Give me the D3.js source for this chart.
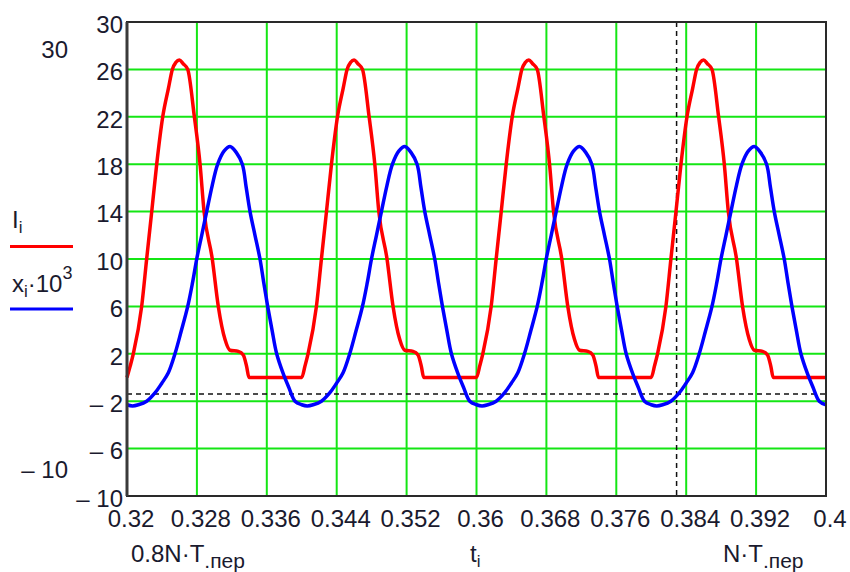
<!DOCTYPE html>
<html>
<head>
<meta charset="utf-8">
<script src="https://cdn.jsdelivr.net/npm/d3@7/dist/d3.min.js"></script>
<style>
body { margin: 0; background: #fff; }
text { font-family: "Liberation Sans", Arial, sans-serif; fill: #1a1a2e; }
</style>
</head>
<body>
<div id="svgcontainer"></div>
<script>
var width = 850;
var height = 572;
var margin = {top: 22, right: 24, bottom: 76, left: 127};

var xTicks = [0.32, 0.328, 0.336, 0.344, 0.352, 0.36, 0.368, 0.376, 0.384, 0.392, 0.4];
var xTickLabels = ["0.32", "0.328", "0.336", "0.344", "0.352", "0.36", "0.368", "0.376", "0.384", "0.392", "0.4"];
var yTicks = [30, 26, 22, 18, 14, 10, 6, 2, -2, -6, -10];

// I_i
var redT = [
   0.32000, 0.32038, 0.32072, 0.32168, 0.32225, 0.32283, 0.32340, 0.32409, 0.32474, 0.32519, 0.32560, 0.32599, 0.32640, 0.32695, 0.32771, 0.32836, 0.32882, 0.32976, 0.33045, 0.33122, 0.33179, 0.33274, 0.33331, 0.33370, 0.33396,
   0.34000, 0.34038, 0.34072, 0.34168, 0.34225, 0.34283, 0.34340, 0.34409, 0.34474, 0.34519, 0.34560, 0.34599, 0.34640, 0.34695, 0.34771, 0.34836, 0.34882, 0.34976, 0.35045, 0.35122, 0.35179, 0.35274, 0.35331, 0.35370, 0.35396,
   0.36000, 0.36038, 0.36072, 0.36168, 0.36225, 0.36283, 0.36340, 0.36409, 0.36474, 0.36519, 0.36560, 0.36599, 0.36640, 0.36695, 0.36771, 0.36836, 0.36882, 0.36976, 0.37045, 0.37122, 0.37179, 0.37274, 0.37331, 0.37370, 0.37396,
   0.38000, 0.38038, 0.38072, 0.38168, 0.38225, 0.38283, 0.38340, 0.38409, 0.38474, 0.38519, 0.38560, 0.38599, 0.38640, 0.38695, 0.38771, 0.38836, 0.38882, 0.38976, 0.39045, 0.39122, 0.39179, 0.39274, 0.39331, 0.39370, 0.39396,
   0.40000
];
var redI = [
   0, 1.0, 2.0, 6.0, 10.0, 14.0, 18.0, 22.0, 24.4, 26.0, 26.6, 26.8, 26.5, 26.0, 22.0, 18.0, 14.0, 10.0, 6.0, 3.2, 2.3, 2.2, 1.9, 0.9, 0,
   0, 1.0, 2.0, 6.0, 10.0, 14.0, 18.0, 22.0, 24.4, 26.0, 26.6, 26.8, 26.5, 26.0, 22.0, 18.0, 14.0, 10.0, 6.0, 3.2, 2.3, 2.2, 1.9, 0.9, 0,
   0, 1.0, 2.0, 6.0, 10.0, 14.0, 18.0, 22.0, 24.4, 26.0, 26.6, 26.8, 26.5, 26.0, 22.0, 18.0, 14.0, 10.0, 6.0, 3.2, 2.3, 2.2, 1.9, 0.9, 0,
   0, 1.0, 2.0, 6.0, 10.0, 14.0, 18.0, 22.0, 24.4, 26.0, 26.6, 26.8, 26.5, 26.0, 22.0, 18.0, 14.0, 10.0, 6.0, 3.2, 2.3, 2.2, 1.9, 0.9, 0,
   0
];

// x_i*10^3
var blueT = [
   0.32000, 0.32063, 0.32130, 0.32225, 0.32320, 0.32397, 0.32473, 0.32549, 0.32620, 0.32695, 0.32750, 0.32798, 0.32855, 0.32912, 0.32975, 0.33038, 0.33110, 0.33179, 0.33250, 0.33320, 0.33365, 0.33408, 0.33465, 0.33522, 0.33565, 0.33610, 0.33660, 0.33713, 0.33789, 0.33850, 0.33923,
   0.34000, 0.34063, 0.34130, 0.34225, 0.34320, 0.34397, 0.34473, 0.34549, 0.34620, 0.34695, 0.34750, 0.34798, 0.34855, 0.34912, 0.34975, 0.35038, 0.35110, 0.35179, 0.35250, 0.35320, 0.35365, 0.35408, 0.35465, 0.35522, 0.35565, 0.35610, 0.35660, 0.35713, 0.35789, 0.35850, 0.35923,
   0.36000, 0.36063, 0.36130, 0.36225, 0.36320, 0.36397, 0.36473, 0.36549, 0.36620, 0.36695, 0.36750, 0.36798, 0.36855, 0.36912, 0.36975, 0.37038, 0.37110, 0.37179, 0.37250, 0.37320, 0.37365, 0.37408, 0.37465, 0.37522, 0.37565, 0.37610, 0.37660, 0.37713, 0.37789, 0.37850, 0.37923,
   0.38000, 0.38063, 0.38130, 0.38225, 0.38320, 0.38397, 0.38473, 0.38549, 0.38620, 0.38695, 0.38750, 0.38798, 0.38855, 0.38912, 0.38975, 0.39038, 0.39110, 0.39179, 0.39250, 0.39320, 0.39365, 0.39408, 0.39465, 0.39522, 0.39565, 0.39610, 0.39660, 0.39713, 0.39789, 0.39850, 0.39923,
   0.40000
];
var blueX = [
   -2.3, -2.4, -2.3, -2.0, -1.3, -0.5, 0.4, 2.0, 3.9, 6.0, 8.0, 10.0, 12.0, 14.0, 16.2, 18.0, 19.1, 19.5, 19.0, 18.0, 16.0, 14.0, 12.0, 10.0, 8.0, 6.0, 4.0, 2.0, 0.3, -0.8, -2.0,
   -2.3, -2.4, -2.3, -2.0, -1.3, -0.5, 0.4, 2.0, 3.9, 6.0, 8.0, 10.0, 12.0, 14.0, 16.2, 18.0, 19.1, 19.5, 19.0, 18.0, 16.0, 14.0, 12.0, 10.0, 8.0, 6.0, 4.0, 2.0, 0.3, -0.8, -2.0,
   -2.3, -2.4, -2.3, -2.0, -1.3, -0.5, 0.4, 2.0, 3.9, 6.0, 8.0, 10.0, 12.0, 14.0, 16.2, 18.0, 19.1, 19.5, 19.0, 18.0, 16.0, 14.0, 12.0, 10.0, 8.0, 6.0, 4.0, 2.0, 0.3, -0.8, -2.0,
   -2.3, -2.4, -2.3, -2.0, -1.3, -0.5, 0.4, 2.0, 3.9, 6.0, 8.0, 10.0, 12.0, 14.0, 16.2, 18.0, 19.1, 19.5, 19.0, 18.0, 16.0, 14.0, 12.0, 10.0, 8.0, 6.0, 4.0, 2.0, 0.3, -0.8, -2.0,
   -2.3
];

// markers
var markerY = -1.4;
var markerX = 0.3829;

var svg = d3.select("#svgcontainer")
   .append("svg")
   .attr("width", width)
   .attr("height", height);

var x = d3.scaleLinear()
   .domain([0.32, 0.4])
   .range([margin.left, width - margin.right]);

var y = d3.scaleLinear()
   .domain([-10, 30])
   .range([height - margin.bottom, margin.top]);

// green grid
svg.append("g")
   .selectAll("line.vx")
   .data(xTicks.slice(1, -1))
   .enter()
   .append("line")
   .attr("x1", function(d) { return x(d); })
   .attr("x2", function(d) { return x(d); })
   .attr("y1", y(30))
   .attr("y2", y(-10))
   .attr("stroke", "#14e614")
   .attr("stroke-width", 2);

svg.append("g")
   .selectAll("line.hy")
   .data(yTicks.slice(1, -1))
   .enter()
   .append("line")
   .attr("x1", x(0.32))
   .attr("x2", x(0.4))
   .attr("y1", function(d) { return y(d); })
   .attr("y2", function(d) { return y(d); })
   .attr("stroke", "#14e614")
   .attr("stroke-width", 2);

// dashed markers
svg.append("line")
   .attr("x1", x(0.32)).attr("x2", x(0.4))
   .attr("y1", y(markerY)).attr("y2", y(markerY))
   .attr("stroke", "#111")
   .attr("stroke-width", 1.5)
   .attr("stroke-dasharray", "5,4");

svg.append("line")
   .attr("x1", x(markerX)).attr("x2", x(markerX))
   .attr("y1", y(30)).attr("y2", y(-10))
   .attr("stroke", "#111")
   .attr("stroke-width", 1.5)
   .attr("stroke-dasharray", "5,4");

var redLine = d3.line()
   .x(function(d) { return x(d[0]); })
   .y(function(d) { return y(d[1]); })
   .curve(d3.curveMonotoneX);

var blueLine = d3.line()
   .x(function(d) { return x(d[0]); })
   .y(function(d) { return y(d[1]); })
   .curve(d3.curveCatmullRom.alpha(0.5));

svg.append("path")
   .datum(d3.zip(redT, redI))
   .attr("d", redLine)
   .attr("fill", "none")
   .attr("stroke", "#ff0000")
   .attr("stroke-width", 3.5)
   .attr("stroke-linejoin", "round");

svg.append("path")
   .datum(d3.zip(blueT, blueX))
   .attr("d", blueLine)
   .attr("fill", "none")
   .attr("stroke", "#0000ff")
   .attr("stroke-width", 3.5)
   .attr("stroke-linejoin", "round");

// frame
svg.append("rect")
   .attr("x", x(0.32))
   .attr("y", y(30))
   .attr("width", x(0.4) - x(0.32))
   .attr("height", y(-10) - y(30))
   .attr("fill", "none")
   .attr("stroke", "#2a2a2a")
   .attr("stroke-width", 2);

svg.append("line")
   .attr("x1", x(0.32)).attr("x2", x(0.32))
   .attr("y1", y(30)).attr("y2", y(-10))
   .attr("stroke", "#3a3a3a")
   .attr("stroke-width", 3);

// tick labels
var yAxis = d3.axisLeft(y)
   .tickValues(yTicks)
   .tickSize(0)
   .tickPadding(4)
   .tickFormat(function(d) { return d < 0 ? "\u2013 " + Math.abs(d) : String(d); });

svg.append("g")
   .attr("transform", "translate(" + x(0.32) + ",0)")
   .call(yAxis)
   .call(function(g) { g.select(".domain").remove(); })
   .selectAll("text")
   .attr("font-size", "24px")
   .attr("font-family", "Liberation Sans, Arial, sans-serif")
   .attr("fill", "#1a1a2e")
   .attr("dy", "0.43em");

var xAxis = d3.axisBottom(x)
   .tickValues(xTicks)
   .tickSize(0)
   .tickPadding(14)
   .tickFormat(function(d, i) { return xTickLabels[i]; });

svg.append("g")
   .attr("transform", "translate(3.5," + y(-10) + ")")
   .call(xAxis)
   .call(function(g) { g.select(".domain").remove(); })
   .selectAll("text")
   .attr("font-size", "24px")
   .attr("font-family", "Liberation Sans, Arial, sans-serif")
   .attr("fill", "#1a1a2e");

// axis limit labels
svg.append("text")
   .attr("x", 68).attr("y", 58)
   .attr("text-anchor", "end")
   .attr("font-size", "24px")
   .text("30");

svg.append("text")
   .attr("x", 68).attr("y", 478)
   .attr("text-anchor", "end")
   .attr("font-size", "24px")
   .text("\u2013 10");

var lab1 = svg.append("text")
   .attr("x", 131).attr("y", 562)
   .attr("font-size", "24px");
lab1.append("tspan").text("0.8N\u00b7T");
lab1.append("tspan").attr("dy", 6).attr("font-size", "21px").text(".пер");

var lab2 = svg.append("text")
   .attr("x", 470).attr("y", 562)
   .attr("font-size", "24px");
lab2.append("tspan").text("t");
lab2.append("tspan").attr("dy", 5).attr("font-size", "17px").text("i");

var lab3 = svg.append("text")
   .attr("x", 723).attr("y", 562)
   .attr("font-size", "24px");
lab3.append("tspan").text("N\u00b7T");
lab3.append("tspan").attr("dy", 6).attr("font-size", "21px").text(".пер");

// legend
var leg1 = svg.append("text")
   .attr("x", 12).attr("y", 228)
   .attr("font-size", "24px");
leg1.append("tspan").text("I");
leg1.append("tspan").attr("dy", 5).attr("font-size", "17px").text("i");

svg.append("line")
   .attr("x1", 10).attr("x2", 73)
   .attr("y1", 246.5).attr("y2", 246.5)
   .attr("stroke", "#ff0000")
   .attr("stroke-width", 3);

var leg2 = svg.append("text")
   .attr("x", 12).attr("y", 292)
   .attr("font-size", "24px");
leg2.append("tspan").text("x");
leg2.append("tspan").attr("dy", 5).attr("font-size", "17px").text("i");
leg2.append("tspan").attr("dy", -5).text("\u00b710");
leg2.append("tspan").attr("dy", -13).attr("font-size", "18px").text("3");

svg.append("line")
   .attr("x1", 10).attr("x2", 73)
   .attr("y1", 309).attr("y2", 309)
   .attr("stroke", "#0000ff")
   .attr("stroke-width", 3);
</script>
</body>
</html>
